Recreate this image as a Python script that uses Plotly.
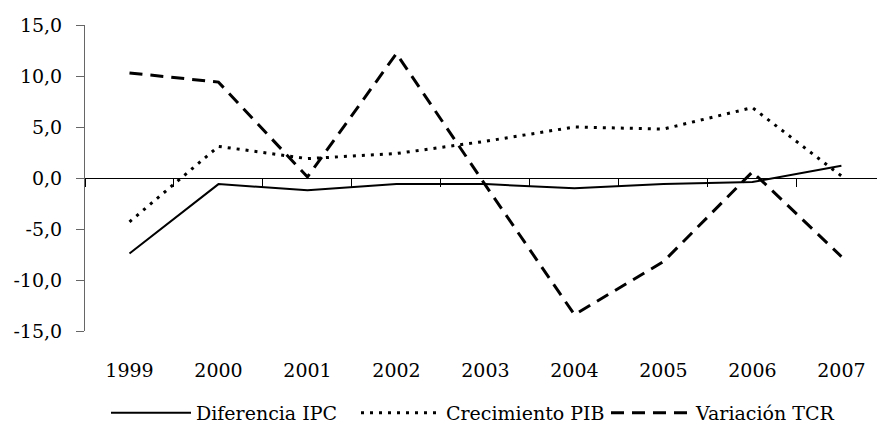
import plotly.graph_objects as go

years = ["1999", "2000", "2001", "2002", "2003", "2004", "2005", "2006", "2007"]
diferencia_ipc = [-7.4, -0.6, -1.2, -0.6, -0.6, -1.0, -0.6, -0.4, 1.2]
crecimiento_pib = [-4.3, 3.1, 1.9, 2.4, 3.6, 5.0, 4.8, 6.9, 0.2]
variacion_tcr = [10.3, 9.4, 0.1, 12.2, -0.7, -13.4, -8.2, 0.6, -7.7]
y_ticks = [-15, -10, -5, 0, 5, 10, 15]
y_tick_labels = [f"{v:.1f}".replace(".", ",") for v in y_ticks]

x = list(range(len(years)))
FONT = "DejaVu Serif"
FS = 19

fig = go.Figure()
fig.add_trace(go.Scatter(x=x, y=diferencia_ipc, mode="lines", name="Diferencia IPC",
                         line=dict(color="black", width=2)))
fig.add_trace(go.Scatter(x=x, y=crecimiento_pib, mode="lines", name="Crecimiento PIB",
                         line=dict(color="black", width=3, dash="3px,6px")))
fig.add_trace(go.Scatter(x=x, y=variacion_tcr, mode="lines", name="Variación TCR",
                         line=dict(color="black", width=3, dash="13px,8px")))

xr = [-0.5, len(years) - 0.6]
fig.update_layout(
    width=877, height=432,
    margin=dict(l=85, r=0, t=25, b=100),
    plot_bgcolor="white", paper_bgcolor="white",
    font=dict(family=FONT, size=FS, color="black"),
    showlegend=True,
    legend=dict(orientation="h", x=0.5, xanchor="center", y=-0.27, yanchor="middle",
                font=dict(family=FONT, size=FS, color="black"), itemwidth=80,
                entrywidth=155, traceorder="normal", tracegroupgap=0),
    xaxis=dict(range=xr, tickmode="array", tickvals=x, ticktext=years,
               showline=False, ticks="", showgrid=False, zeroline=False,
               ticklabelstandoff=26, tickfont=dict(family=FONT, size=FS)),
    xaxis2=dict(range=xr, overlaying="x", anchor="free", position=0.5, side="bottom",
                tickmode="array", tickvals=[i - 0.5 for i in x], showticklabels=False,
                showline=True, linecolor="black", linewidth=1, ticks="outside",
                ticklen=8, tickcolor="black", tickwidth=1, showgrid=False, zeroline=False),
    yaxis=dict(range=[-15, 15], tickmode="array", tickvals=y_ticks, ticktext=y_tick_labels,
               showline=True, linecolor="#666666", linewidth=1, ticks="outside",
               ticklen=8, tickcolor="#666666", showgrid=False, zeroline=False,
               ticklabelstandoff=10, tickfont=dict(family=FONT, size=FS)),
)
# invisible trace to activate xaxis2
fig.add_trace(go.Scatter(x=[x[0]], y=[0], xaxis="x2", mode="markers",
                         marker=dict(opacity=0), showlegend=False, hoverinfo="skip"))

fig.write_html("out.html", config={"displayModeBar": False},
               post_script="document.body.style.margin='0';document.body.style.overflow='hidden';")
